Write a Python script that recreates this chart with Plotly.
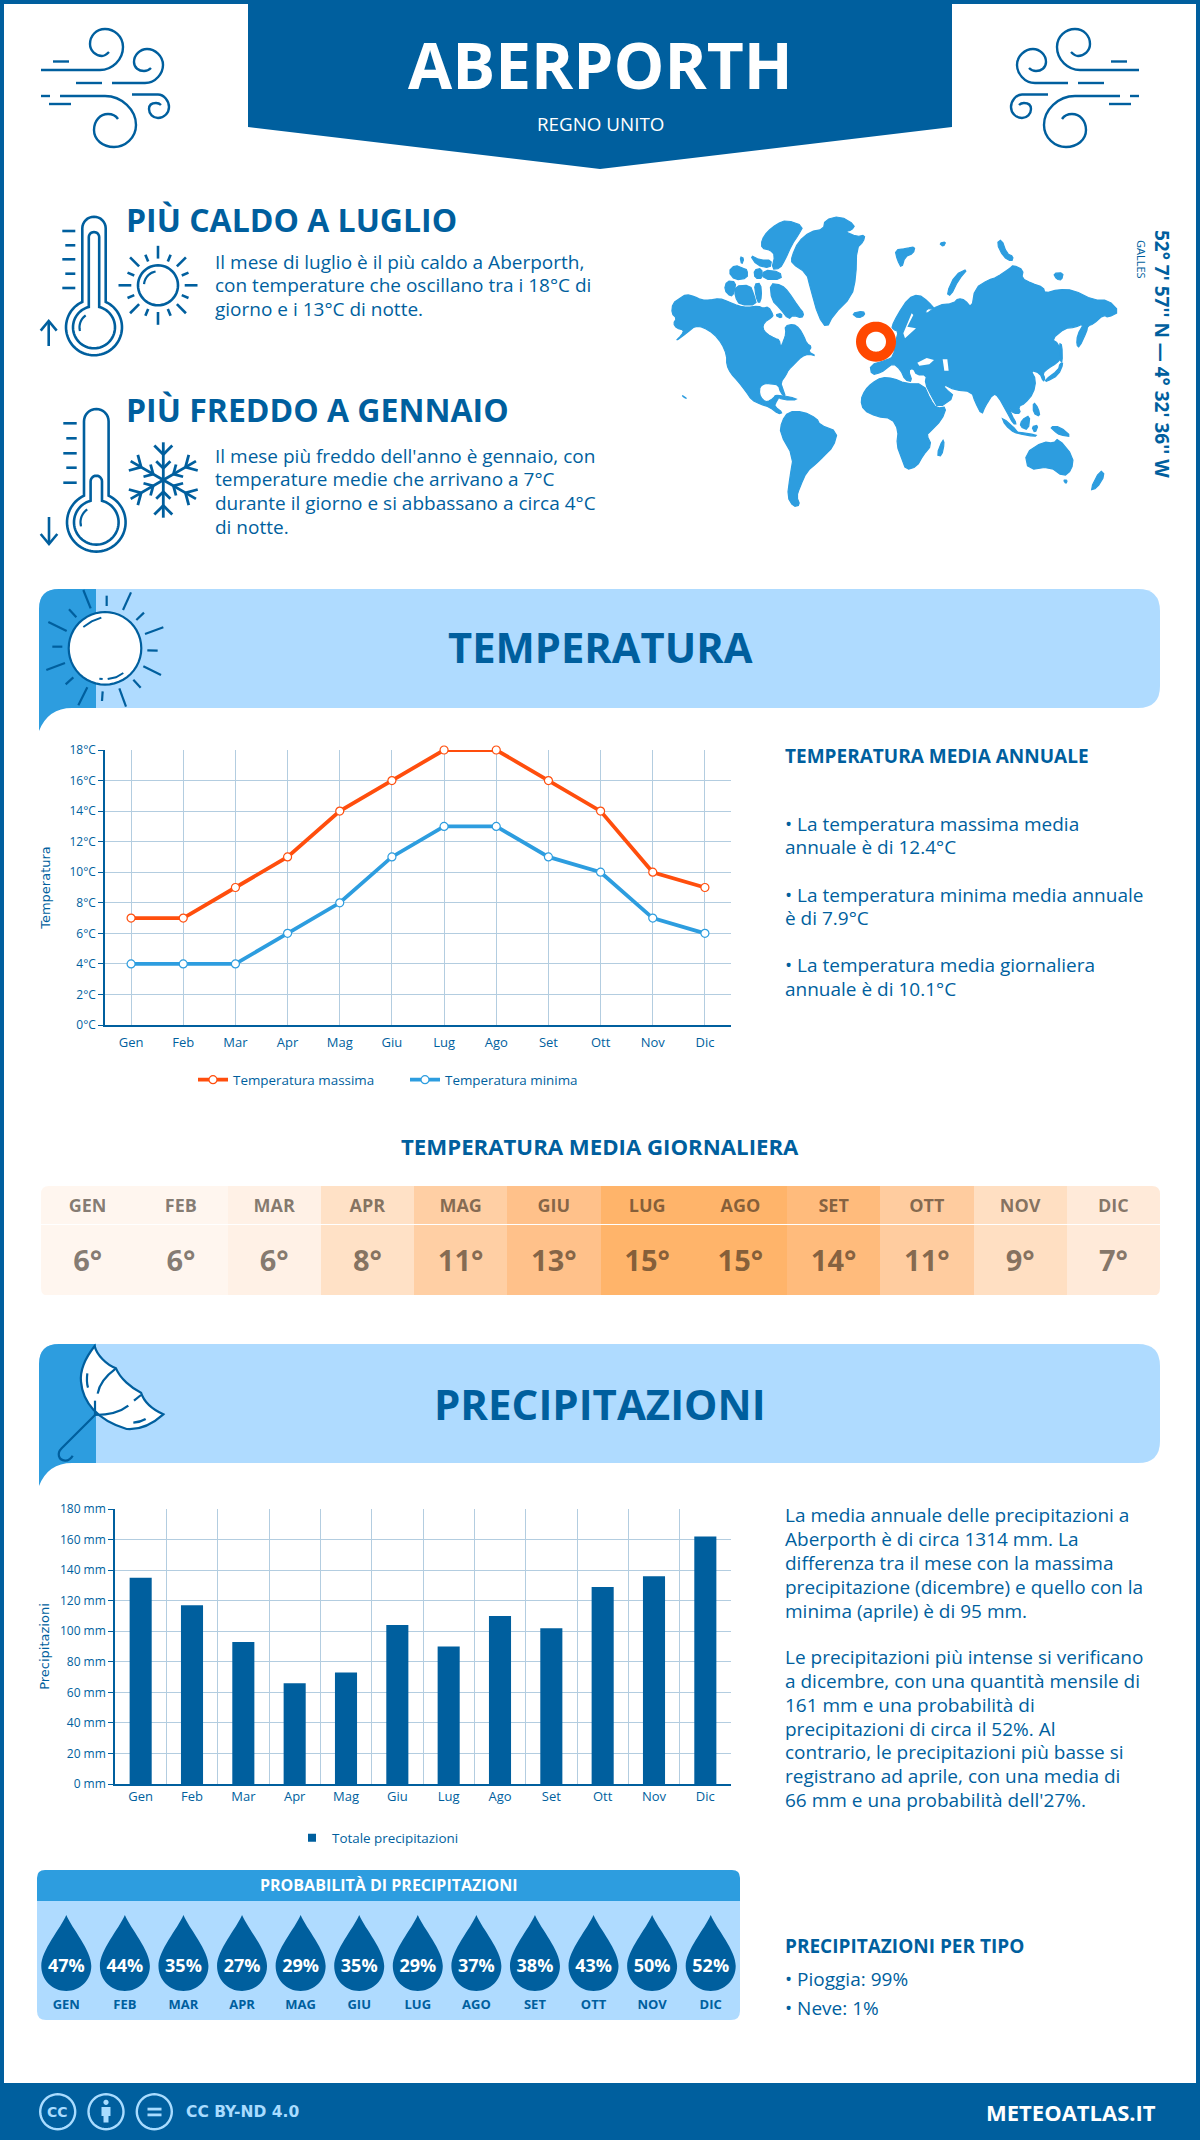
import re, math
import plotly.graph_objects as go

W, H = 1200, 2140
BLUE = "#005f9e"; MID = "#2d9ddf"; LIGHT = "#afdbff"; ORANGE = "#ff4e0d"; GRID = "#b3cde0"; ICON = "#a9dcff"
OS = "Open Sans"

months_short = ["Gen","Feb","Mar","Apr","Mag","Giu","Lug","Ago","Set","Ott","Nov","Dic"]
months_upper = ["GEN","FEB","MAR","APR","MAG","GIU","LUG","AGO","SET","OTT","NOV","DIC"]
temp_max = [7,7,9,11,14,16,18,18,16,14,10,9]
temp_min = [4,4,4,6,8,11,13,13,11,10,7,6]
temp_mean_labels = [6,6,6,8,11,13,15,15,14,11,9,7]
temp_mean_shade = [5.6,5.6,6.4,8.3,11,13,15,15,14,11.4,8.6,7.2]
rain_mm = [135,117,93,66,73,104,90,110,102,129,136,162]
rain_prob = [47,44,35,27,29,35,29,37,38,43,50,52]

def X(x): return x / W
def Y(y): return 1 - y / H

def pth(d):
    out, i = [], 0
    for tok in re.findall(r"[MLCQZ]|-?\d+\.?\d*", d):
        if tok in "MLCQZ":
            out.append(tok)
        else:
            v = float(tok)
            out.append(f"{X(v):.6f}" if i % 2 == 0 else f"{Y(v):.6f}")
            i += 1
            if i % 2 == 0:
                out.append(" ")
            else:
                out.append(",")
    return "".join(out)

shapes = []
def add(d, fill=None, line=None, lw=0, layer="below"):
    shapes.append(dict(type="path", xref="paper", yref="paper", path=pth(d), layer=layer, fillrule="nonzero",
                       fillcolor=fill or "rgba(0,0,0,0)",
                       line=dict(color=line or "rgba(0,0,0,0)", width=lw)))

def poly(pts, close=True):
    return "M" + " L".join(f"{a:.2f},{b:.2f}" for a, b in pts) + (" Z" if close else "")

def arc(cx, cy, r, a0=0, a1=360, n=48):
    return [(cx + r*math.cos(math.radians(a0+(a1-a0)*i/n)), cy + r*math.sin(math.radians(a0+(a1-a0)*i/n))) for i in range(n+1)]

def rr(x0, y0, x1, y1, tl=0, tr=0, br=0, bl=0):
    return (f"M{x0+tl},{y0} L{x1-tr},{y0} Q{x1},{y0} {x1},{y0+tr} L{x1},{y1-br} Q{x1},{y1} {x1-br},{y1} "
            f"L{x0+bl},{y1} Q{x0},{y1} {x0},{y1-bl} L{x0},{y0+tl} Q{x0},{y0} {x0+tl},{y0} Z")

def seg(x0, y0, x1, y1, lw=2.2, col=BLUE):
    add(f"M{x0:.2f},{y0:.2f} L{x1:.2f},{y1:.2f}", line=col, lw=lw)

def chaikin(pts, k=2):
    for _ in range(k):
        out = []
        for i in range(len(pts)):
            a, b = pts[i], pts[(i+1) % len(pts)]
            out.append((a[0]*.75+b[0]*.25, a[1]*.75+b[1]*.25))
            out.append((a[0]*.25+b[0]*.75, a[1]*.25+b[1]*.75))
        pts = out
    return pts

# ---------- page furniture
add(f"M0,0 L{W},0 L{W},4 L0,4 Z", fill=BLUE)
add(f"M0,0 L4,0 L4,{H} L0,{H} Z", fill=BLUE)
add(f"M{W-4},0 L{W},0 L{W},{H} L{W-4},{H} Z", fill=BLUE)
add("M248,0 L952,0 L952,127 L600,169 L248,127 Z", fill=BLUE)
add(f"M0,2083 L{W},2083 L{W},{H} L0,{H} Z", fill=BLUE)

# ---------- wind icons
wind = [
 "M41,70 L100,70 C112,70 123,60 123,47 C123,36 114,29 105,29 C96,29 90,36 90,44 C90,51 96,56 102,56 C105,56 107,54 109,52",
 "M53,61.5 L69,61.5", "M76,83 L102,83",
 "M112,83 L145,83 C156,83 163,73 163,65 C163,56 155,49 147,49 C140,49 134,55 134,62 C134,68 139,71 144,71 C147,71 149,70 151,68",
 "M41,96 L50,96",
 "M60,96 L105,96 C122,96 136,110 136,125 C136,138 125,147 114,147 C103,147 94,140 94,130 C94,121 100,114 108,114 C112,114 116,116 118,119",
 "M49,104 L71,104",
 "M132,94.5 L158,94.5 C164,94.5 169,101 169,107 C169,113 164,118 158,118 C153,118 149,114 149,109 C149,105 152,103 156,103 C158,103 160,104 161,105",
]
def mirror(d):
    toks = re.findall(r"[MLCQZ]|-?\d+\.?\d*", d)
    out, i = "", 0
    for t in toks:
        if t in "MLCQZ":
            out += " " + t
        else:
            v = float(t)
            if i % 2 == 0:
                out += f"{1180-v:.2f},"
            else:
                out += f"{v:.2f} "
            i += 1
    return out
for d in wind:
    add(d, line=BLUE, lw=2.4)
    add(mirror(d), line=BLUE, lw=2.4)

# ---------- thermometers
def thermo(cx, top, hw, by, r, ihw, itop, ir, ticks, tx0, tx1):
    a = math.degrees(math.asin(hw/r))
    pts = arc(cx, top+hw, hw, 180, 360, 16) + arc(cx, by, r, -90+a, 270-a, 60)
    add(poly(pts), line=BLUE, lw=2.6, fill="white")
    a = math.degrees(math.asin(ihw/ir))
    pts = arc(cx, itop+ihw, ihw, 180, 360, 12) + arc(cx, by, ir, -90+a, 270-a, 60)
    add(poly(pts), line=BLUE, lw=2.6, fill="white")
    for i, ty in enumerate(ticks):
        seg(tx0 + (3 if i % 2 else 0), ty, tx1, ty, 2.6)
    add(poly(arc(cx, by, ir-6.5, 165, 235, 12), False), line=BLUE, lw=2.2)
thermo(94, 216.7, 11.7, 327.3, 28, 5.2, 232, 21, [231,245.3,259.3,273.7,288], 62.3, 75.3)
thermo(96.3, 409, 12.3, 522.3, 29.3, 5.7, 475.7, 22.3, [423.3,438.3,453.3,467.7,482.7], 63.3, 76.7)
seg(48.7,346,48.7,321,2.6); add("M40.7,330.7 L48.7,321 L56.7,330.7", line=BLUE, lw=2.6)
seg(49,517,49,543,2.6); add("M40.7,534 L49,544 L57.3,534", line=BLUE, lw=2.6)

# small sun
scx, scy = 158, 285.3
add(poly(arc(scx, scy, 20)), line=BLUE, lw=2.6)
for i in range(8):
    t = math.radians(45*i)
    seg(scx+26.7*math.cos(t), scy+26.7*math.sin(t), scx+39.5*math.cos(t), scy+39.5*math.sin(t), 2.6)
    t = math.radians(45*i+22.5)
    seg(scx+25.7*math.cos(t), scy+25.7*math.sin(t), scx+33*math.cos(t), scy+33*math.sin(t), 2.6)
add(poly(arc(scx, scy, 14, 185, 260, 10), False), line=BLUE, lw=2.2)

# snowflake
fx, fy = 163.3, 480
for i in range(6):
    t = math.radians(60*i+90)
    ux, uy = math.cos(t), math.sin(t)
    seg(fx, fy, fx+37.7*ux, fy+37.7*uy, 2.8)
    for rr0, ln in ((25.6, 12.7), (11.7, 10)):
        for s in (-45, 45):
            q = t + math.radians(s)
            seg(fx+rr0*ux, fy+rr0*uy, fx+rr0*ux+ln*math.cos(q), fy+rr0*uy+ln*math.sin(q), 2.8)

# ---------- section bands
def band(y0, y1):
    add(rr(39, y0, 1160, y1, 20, 22, 22, 0), fill=LIGHT)
    add(f"M39,{y1+23} L39,{y0+20} Q39,{y0} 59,{y0} L96,{y0} L96,{y1} L72,{y1} Q48,{y1} 39,{y1+23} Z", fill=MID)
band(589, 708)
band(1344, 1463)

# header sun
def zs(x, y): return 30 + x/3, 580 + y/3
add(poly(arc(105, 648.3, 36.3)), fill="white", line=BLUE, lw=2.2)
for a, b, c, d in [(160,30,182,85),(230,47,230,78),(303,37,279,90),(342,98,319,120),(400,142,345,162),(383,212,352,211),
                   (393,285,340,259),(332,323,310,299),(288,380,268,325),(216,363,218,334),(145,376,172,322),(107,313,130,292),
                   (49,270,105,249),(67,200,97,200),(55,126,110,153),(117,88,139,112)]:
    p, q = zs(a, b), zs(c, d)
    seg(p[0], p[1], q[0], q[1], 2.2)
add(poly([zs(160,141), zs(185,124), zs(214,113)], False), line=BLUE, lw=2)
add(poly([zs(233,297), zs(258,292), zs(280,279)], False), line=BLUE, lw=2)
add(poly([zs(208,296), zs(218,297)], False), line=BLUE, lw=2)

# umbrella
def zu(d):
    toks = re.findall(r"[MLCQZ]|-?\d+\.?\d*", d)
    out, i = "", 0
    for t in toks:
        if t in "MLCQZ":
            out += " " + t
        else:
            v = float(t)
            out += f"{30+v/3:.2f}," if i % 2 == 0 else f"{1335+v/3:.2f} "
            i += 1
    return out
add(zu("M194,33 C165,70 150,110 153,140 C158,200 200,255 290,282 C330,285 370,265 400,238 C360,220 340,195 333,173 C305,160 270,130 258,100 C230,90 200,60 194,33 Z"), fill="white", line=BLUE, lw=2.2)
for d in ["M258,100 C228,122 207,150 203,176", "M195,240 L195,197", "M195,240 C235,240 270,232 295,212", "M312,197 L333,180",
          "M172,115 C170,130 170,145 174,158", "M310,263 C325,262 337,258 347,252",
          "M195,240 L95,340 C80,355 85,375 105,377 C115,378 125,368 128,362"]:
    add(zu(d), line=BLUE, lw=2.2)

# ---------- world map (hand-traced outlines on the 3x crop)
land = [
 [(38,310),(60,295),(78,283),(105,290),(125,300),(150,300),(178,295),(205,305),(235,318),(262,322),(295,318),(310,325),(325,320),(340,345),(335,352),(312,368),(308,385),(320,402),(345,415),(358,420),(362,442),(370,425),(378,400),(375,378),(400,372),(418,385),(432,410),(440,430),(455,440),(445,455),(468,468),(445,462),(425,470),(405,490),(385,510),(378,525),(362,548),(368,565),(377,592),(362,578),(355,555),(335,552),(318,550),(300,558),(298,582),(308,600),(322,606),(340,595),(347,585),(358,590),(345,612),(345,620),(368,638),(355,642),(330,622),(300,612),(275,600),(258,575),(235,545),(212,520),(200,495),(200,465),(185,430),(162,402),(130,382),(105,378),(85,395),(45,425),(65,405),(72,390),(50,385),(40,370),(50,355),(35,340)],
 [(365,665),(385,635),(430,635),(470,655),(480,675),(533,695),(520,740),(490,770),(470,790),(440,815),(420,860),(410,890),(420,915),(400,920),(382,890),(390,830),(400,770),(360,700)],
 [(415,125),(450,95),(490,88),(495,60),(540,48),(585,75),(575,90),(555,95),(590,110),(615,105),(610,125),(590,145),(588,230),(575,290),(520,345),(500,385),(475,350),(450,260),(440,220),(395,190),(395,170)],
 [(322,95),(350,72),(380,60),(430,78),(415,105),(395,135),(375,180),(360,205),(335,208),(345,165),(330,150),(305,145),(305,120)],
 [(330,250),(365,255),(385,275),(415,320),(432,340),(425,355),(400,345),(385,358),(360,325),(335,300)],
 [(193,270),(200,243),(228,245),(222,280),(212,290)],[(225,258),(270,255),(282,285),(290,315),(240,315),(225,290)],
 [(283,252),(302,250),(305,290),(297,312),(288,290)],[(205,215),(225,195),(250,205),(262,210),(262,235),(225,240)],
 [(282,210),(305,205),(308,235),(285,235)],[(310,210),(360,215),(365,238),(310,238)],[(270,165),(300,180),(335,180),(330,205),(290,195)],
 [(240,170),(252,175),(245,195)],[(345,345),(365,340),(365,355)],
 [(575,340),(610,333),(615,345),(595,355)],
 [(705,150),(740,145),(765,140),(760,160),(735,170),(725,205),(712,180)],[(838,130),(858,125),(850,140)],
 [(1010,130),(1025,118),(1040,160),(1060,170),(1055,185),(1030,170)],[(1180,220),(1210,218),(1205,240),(1190,238)],
 [(860,280),(885,225),(925,205),(895,240),(872,288)],
 [(602,600),(615,570),(635,550),(665,532),(700,535),(735,550),(790,552),(812,600),(830,625),(860,620),(845,660),(810,695),(800,705),(815,735),(790,765),(770,800),(738,810),(725,775),(710,735),(715,690),(695,655),(650,650),(610,630)],
 [(830,765),(848,718),(853,730),(845,768)],
 [(708,420),(715,395),(700,388),(695,380),(712,345),(745,295),(775,283),(805,305),(825,328),(800,325),(795,345),(835,315),(880,310),(895,295),(915,300),(935,325),(945,265),(985,240),(1010,232),(1050,205),(1060,195),(1090,210),(1085,235),(1115,250),(1150,262),(1155,280),(1195,268),(1240,270),(1300,300),(1345,300),(1378,335),(1345,352),(1330,345),(1300,372),(1283,378),(1280,395),(1258,442),(1250,435),(1252,405),(1272,370),(1245,382),(1215,385),(1175,418),(1195,430),(1207,470),(1190,490),(1165,505),(1148,520),(1155,535),(1150,545),(1140,520),(1112,510),(1128,540),(1120,580),(1095,610),(1075,620),(1082,640),(1060,640),(1048,625),(1055,645),(1070,672),(1060,672),(1040,635),(1015,590),(1000,580),(975,620),(965,645),(945,605),(935,575),(885,570),(850,553),(855,565),(885,590),(835,625),(815,590),(795,550),(800,525),(770,525),(760,505),(745,510),(757,545),(735,540),(722,510),(700,490),(680,505),(665,517),(635,525),(630,495),(680,480),(700,470)],
 [(1025,650),(1075,695),(1065,700),(1035,675)],[(1085,660),(1110,645),(1105,690),(1080,680)],[(1070,695),(1130,705),(1125,710),(1070,700)],
 [(1115,680),(1135,675),(1125,700)],[(1170,680),(1200,680),(1235,710),(1200,705),(1185,695)],[(1120,605),(1135,625),(1140,650),(1120,640)],
 [(1155,540),(1195,510),(1200,490),(1210,490),(1195,525),(1160,545)],[(1198,430),(1206,435),(1207,488),(1200,480)],
 [(1095,760),(1150,725),(1180,730),(1195,715),(1240,770),(1235,810),(1210,830),(1170,800),(1105,810)],[(1210,840),(1222,840),(1218,852)],
 [(1320,810),(1335,825),(1310,865),(1290,870)],[(340,585),(390,590),(415,600),(370,600)],[(65,585),(82,597),(72,592)],
]
holes = [[(772,488),(800,474),(822,480),(808,493),(778,497)],[(848,478),(862,478),(866,512),(853,512)],
         [(755,340),(760,345),(742,380),(768,385),(735,415),(730,400)]]
def zm(pts): return [(660+a/3, 200+b/3) for a, b in pts]
for p in land:
    add(poly(zm(chaikin(p, 1))), fill=MID, line=MID, lw=1.2)
for p in holes:
    add(poly(zm(p)), fill="white")
add(poly(arc(876, 341.7, 15)), line="#ff4800", lw=10, fill="white")

# ---------- corners of the heat strip & probability panel
add(rr(37, 1870, 740, 1901, 8, 8, 0, 0), fill=MID)
add(rr(37, 1901, 740, 2020, 0, 0, 9, 9), fill=LIGHT)
for cx, cy, sx, sy in [(41,1186,1,1),(1160,1186,-1,1),(41,1296,1,-1),(1160,1296,-1,-1)]:
    add(f"M{cx},{cy} L{cx+8*sx},{cy} Q{cx},{cy} {cx},{cy+8*sy} Z", fill="white", layer="above")

# footer icons
for cx in (57.7, 106, 154.3):
    add(poly(arc(cx, 2111.7, 17.5)), line=ICON, lw=2.4)
add(poly(arc(106, 2102.3, 2.6)), fill=ICON)
add("M101.5,2107 L110.5,2107 L110.5,2116 L108.5,2116 L108.5,2122.5 L103.5,2122.5 L103.5,2116 L101.5,2116 Z", fill=ICON)
add("M147.5,2107.7 L161.5,2107.7 L161.5,2110.5 L147.5,2110.5 Z", fill=ICON)
add("M147.5,2113.5 L161.5,2113.5 L161.5,2116.3 L147.5,2116.3 Z", fill=ICON)

# ---------- text
ann = []
def T(x, y, s, size, col=BLUE, bold=False, anchor="left", font=OS, angle=0):
    ann.append(dict(xref="paper", yref="paper", x=X(x-2 if anchor == "left" else x), y=Y(y-1), text=f"<b>{s}</b>" if bold else s, showarrow=False,
                    xanchor=anchor, yanchor="middle", textangle=angle, align=anchor,
                    font=dict(family=font, size=size, color=col)))

T(600, 65, "ABERPORTH", 64, "white", True, "center")
T(600, 125, "REGNO UNITO", 18.8, "white", False, "center")
T(125.5, 220, "PIÙ CALDO A LUGLIO", 32, BLUE, True)
for y, s in zip((262.6, 286, 309.6), ("Il mese di luglio è il più caldo a Aberporth,", "con temperature che oscillano tra i 18°C di", "giorno e i 13°C di notte.")):
    T(215, y, s, 19)
T(125.5, 410.6, "PIÙ FREDDO A GENNAIO", 32, BLUE, True)
for y, s in zip((457, 480.5, 504, 528), ("Il mese più freddo dell'anno è gennaio, con", "temperature medie che arrivano a 7°C", "durante il giorno e si abbassano a circa 4°C", "di notte.")):
    T(215, y, s, 19)
T(1162, 355, "52° 7' 57'' N — 4° 32' 36'' W", 19, BLUE, True, "center", angle=90)
T(1142, 260, "GALLES", 11, BLUE, False, "center", angle=90)
T(600, 648, "TEMPERATURA", 41.7, BLUE, True, "center")
T(785, 757, "TEMPERATURA MEDIA ANNUALE", 19, BLUE, True)
for y, s in zip((825, 847.5, 895.5, 918.5, 966, 990), ("• La temperatura massima media", "annuale è di 12.4°C", "• La temperatura minima media annuale", "è di 7.9°C", "• La temperatura media giornaliera", "annuale è di 10.1°C")):
    T(785, y, s, 19)
T(600, 1147, "TEMPERATURA MEDIA GIORNALIERA", 22.2, BLUE, True, "center")
T(600, 1404, "PRECIPITAZIONI", 42, BLUE, True, "center")
for y, s in zip((1516,1539.5,1563.5,1587.5,1611.5,1658,1682,1706,1729.5,1753,1777,1801),
    ("La media annuale delle precipitazioni a","Aberporth è di circa 1314 mm. La","differenza tra il mese con la massima","precipitazione (dicembre) e quello con la","minima (aprile) è di 95 mm.",
     "Le precipitazioni più intense si verificano","a dicembre, con una quantità mensile di","161 mm e una probabilità di","precipitazioni di circa il 52%. Al","contrario, le precipitazioni più basse si","registrano ad aprile, con una media di","66 mm e una probabilità dell'27%.")):
    T(785, y, s, 19)
T(388.5, 1886, "PROBABILITÀ DI PRECIPITAZIONI", 16, "white", True, "center")
T(785, 1947, "PRECIPITAZIONI PER TIPO", 19, BLUE, True)
T(785, 1980, "• Pioggia: 99%", 19)
T(785, 2009, "• Neve: 1%", 19)
T(57.7, 2112.7, "CC", 14, ICON, True, "center", "DejaVu Sans")
T(186, 2113, "CC BY-ND 4.0", 15.5, ICON, True, "left", "DejaVu Sans")
T(1158, 2113, "METEOATLAS.IT", 22, "white", True, "right")

# ---------- figure
fig = go.Figure()
tick_font = dict(family=OS, size=12, color=BLUE)
xtick_font = dict(family=OS, size=13, color=BLUE)
title_font = dict(family="DejaVu Sans", size=13, color=BLUE)

fig.add_trace(go.Scatter(x=months_short, y=temp_max, name="Temperatura massima", mode="lines+markers", xaxis="x", yaxis="y",
                         line=dict(color=ORANGE, width=3.8),
                         marker=dict(size=8, color="white", line=dict(color=ORANGE, width=1.2)), cliponaxis=False))
fig.add_trace(go.Scatter(x=months_short, y=temp_min, name="Temperatura minima", mode="lines+markers", xaxis="x", yaxis="y",
                         line=dict(color=MID, width=3.8),
                         marker=dict(size=8, color="white", line=dict(color=MID, width=1.2)), cliponaxis=False))
fig.add_trace(go.Bar(x=months_short, y=rain_mm, name="Totale precipitazioni", xaxis="x2", yaxis="y2", showlegend=False,
                     marker=dict(color=BLUE, line=dict(width=0))))
fig.add_trace(go.Scatter(x=[None], y=[None], name="Totale precipitazioni", mode="markers", xaxis="x2", yaxis="y2", legend="legend2",
                         marker=dict(symbol="square", size=8, color=BLUE)))
fig.add_trace(go.Heatmap(x=list(range(12)), y=[0, 71, 110], z=[temp_mean_shade, temp_mean_shade], xaxis="x3", yaxis="y3",
                         showscale=False, ygap=1, zmin=5, zmax=15, hoverinfo="skip",
                         colorscale=[[0, "#fff9f5"], [0.14, "#fff1e6"], [0.33, "#ffe1c6"], [0.6, "#ffcfa4"], [0.8, "#ffc18a"], [0.9, "#ffbb7c"], [1, "#ffb46a"]]))
fig.add_trace(go.Scatter(x=list(range(12)), y=[88.5]*12, text=months_upper, mode="text", xaxis="x3", yaxis="y3", showlegend=False,
                         textfont=dict(family=OS, size=18, color="rgba(40,30,20,0.58)", weight="bold"), hoverinfo="skip"))
fig.add_trace(go.Scatter(x=list(range(12)), y=[32]*12, text=[f"{v}°" for v in temp_mean_labels], mode="text", xaxis="x3", yaxis="y3", showlegend=False,
                         textfont=dict(family=OS, size=29, color="rgba(40,30,20,0.58)", weight="bold"), hoverinfo="skip"))
fig.add_trace(go.Scatter(x=list(range(12)), y=[-1]*12, text=[f"{v}%" for v in rain_prob], mode="text", xaxis="x4", yaxis="y4", showlegend=False,
                         textfont=dict(family=OS, size=18, color="white", weight="bold"), hoverinfo="skip"))
fig.add_trace(go.Scatter(x=list(range(12)), y=[-40]*12, text=months_upper, mode="text", xaxis="x4", yaxis="y4", showlegend=False,
                         textfont=dict(family=OS, size=13, color=BLUE, weight="bold"), hoverinfo="skip"))

drop = "M0,51 C-6,37 -25,16 -25,0 C-25,-14 -14,-25 0,-25 C14,-25 25,-14 25,0 C25,16 6,37 0,51 Z"
for i in range(len(rain_prob)):
    shapes.append(dict(type="path", xref="x4", yref="y4", xsizemode="pixel", ysizemode="pixel", xanchor=i, yanchor=0,
                       path=drop, fillcolor=BLUE, line=dict(width=0), layer="below"))

def dx(a, b): return [a/W, b/W]
def dy(t, b): return [1-b/H, 1-t/H]

hidden = dict(visible=False, fixedrange=True)
leg_font = dict(family=OS, size=13.4, color=BLUE)
fig.update_layout(
    width=W, height=H, margin=dict(l=0, r=0, t=0, b=0, autoexpand=False), autosize=False,
    paper_bgcolor="white", plot_bgcolor="rgba(0,0,0,0)", showlegend=True, shapes=shapes, annotations=ann,
    font=dict(family=OS, color=BLUE),
    xaxis=dict(domain=dx(105,731), anchor="y", range=[-0.5,11.5], type="category", categoryorder="array", categoryarray=months_short,
               showgrid=True, gridcolor=GRID, gridwidth=1, showline=True, linecolor=BLUE, linewidth=1.5, tickfont=xtick_font,
               ticks="outside", ticklen=5, tickcolor="rgba(0,0,0,0)"),
    yaxis=dict(domain=dy(750,1025), anchor="x", range=[0,18], dtick=2, ticksuffix="°C", showgrid=True, gridcolor=GRID, gridwidth=1,
               showline=True, linecolor=BLUE, linewidth=1.5, ticks="outside", ticklen=5, tickcolor=BLUE, tickfont=tick_font, zeroline=False,
               title=dict(text="Temperatura", font=title_font, standoff=16)),
    xaxis2=dict(domain=dx(115,731), anchor="y2", range=[-0.5,11.5], type="category", categoryorder="array", categoryarray=months_short, tickson="boundaries",
                showgrid=True, gridcolor=GRID, gridwidth=1, showline=True, linecolor=BLUE, linewidth=1.5, tickfont=xtick_font,
                ticks="outside", ticklen=13, tickcolor="rgba(0,0,0,0)"),
    yaxis2=dict(domain=dy(1509,1784), anchor="x2", range=[0,180], dtick=20, ticksuffix=" mm", showgrid=True, gridcolor=GRID, gridwidth=1,
                showline=True, linecolor=BLUE, linewidth=1.5, ticks="outside", ticklen=5, tickcolor=BLUE, tickfont=tick_font, zeroline=False,
                title=dict(text="Precipitazioni", font=title_font, standoff=7)),
    xaxis3=dict(domain=dx(41,1160), anchor="y3", range=[-0.5,11.5], **hidden),
    yaxis3=dict(domain=dy(1186,1296), anchor="x3", range=[0,110], **hidden),
    xaxis4=dict(domain=dx(37,740), anchor="y4", range=[-0.5,11.5], **hidden),
    yaxis4=dict(domain=dy(1901,2020), anchor="x4", range=[-54,65], **hidden),
    bargap=0.57,
    legend=dict(orientation="h", x=193/W, y=Y(1080), xanchor="left", yanchor="middle", font=leg_font, bgcolor="rgba(0,0,0,0)",
                entrywidth=167, entrywidthmode="pixels"),
    legend2=dict(orientation="h", x=292/W, y=Y(1838), xanchor="left", yanchor="middle", font=leg_font, bgcolor="rgba(0,0,0,0)"),
)
fig.write_html("out.html", config=dict(displayModeBar=False), post_script="document.body.style.margin='0';")
